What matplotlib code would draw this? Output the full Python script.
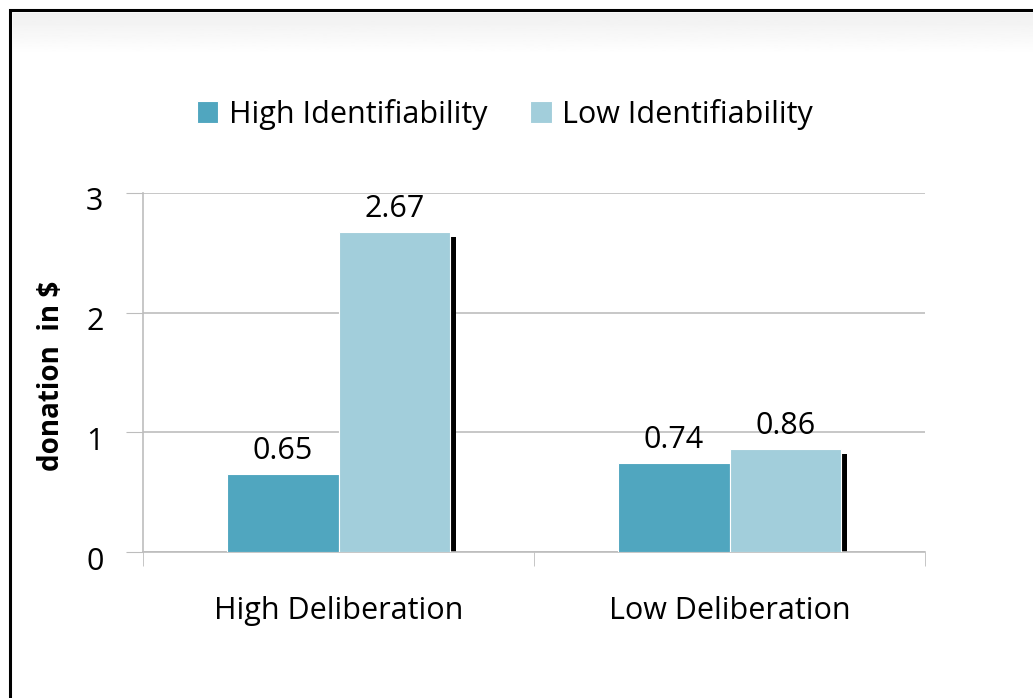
import numpy as np
import matplotlib
matplotlib.use("Agg")
import matplotlib.pyplot as plt
import matplotlib.transforms as mtransforms
from matplotlib.patches import Rectangle

# chart data
categories = ["High Deliberation", "Low Deliberation"]
series_names = ["High Identifiability", "Low Identifiability"]
high_ident = [0.65, 0.74]
low_ident = [2.67, 0.86]
y_ticks = [0, 1, 2, 3]

dark = "#50A6BF"
light = "#A2CEDB"
grid_col = "#BDBDBD"

plt.rcParams['font.family'] = ['Open Sans', 'DejaVu Sans']

fig = plt.figure(figsize=(10.33, 6.98), dpi=100)

# frame around the picture (top and left edges visible)
fig.patches.append(Rectangle((10 / 1033, -0.1), 1.2, 1 - 10 / 698 + 0.1,
                             transform=fig.transFigure, fill=False,
                             edgecolor="black", linewidth=2.2, zorder=5))
# faint grey strip below the top edge
gax = fig.add_axes([13 / 1033, 1 - 55 / 698, 1 - 13 / 1033, 42 / 698])
grad = np.linspace(0.94, 1.0, 40).reshape(-1, 1)
gax.imshow(grad, aspect="auto", cmap="gray", vmin=0, vmax=1, extent=(0, 1, 0, 1))
gax.axis("off")

ax = fig.add_axes([143 / 1033, 1 - 552 / 698, 782 / 1033, 359 / 698])

x = np.arange(len(categories))
w = 0.285
off = 0.1425
fs = 22

b1 = ax.bar(x - off, high_ident, w, color=dark, edgecolor="white",
            linewidth=0.8, label=series_names[0], zorder=3)
b2 = ax.bar(x + off, low_ident, w, color=light, edgecolor="white",
            linewidth=0.8, label=series_names[1], zorder=3)
# thin dark shadow at the right side of the light bars
ax.bar(x + off + w / 2 + 0.0075, np.array(low_ident) - 0.04, 0.015,
       color="black", zorder=2)

for bars, vals in ((b1, high_ident), (b2, low_ident)):
    for r, v in zip(bars, vals):
        ax.annotate(f"{v:.2f}", (r.get_x() + r.get_width() / 2, v),
                    xytext=(0, 6), textcoords="offset points",
                    ha="center", va="bottom", fontsize=fs)

ax.set_xlim(-0.5, 1.5)
ax.set_ylim(0, 3)
ax.set_yticks(y_ticks)
ax.set_yticklabels([str(t) for t in y_ticks], fontsize=fs)
ax.set_xticks(x)
ax.set_xticklabels(categories, fontsize=fs)
ax.tick_params(axis="x", length=0, pad=32)
ax.tick_params(axis="y", length=12, color=grid_col, pad=16.5)

# y tick labels sit a bit below their gridlines
shift = mtransforms.ScaledTranslation(0, -6 / 100, fig.dpi_scale_trans)
for lab in ax.get_yticklabels():
    lab.set_transform(lab.get_transform() + shift)

# category boundary ticks
ax.set_xticks([-0.5, 0.5, 1.5], minor=True)
ax.tick_params(axis="x", which="minor", length=10, color=grid_col)

ax.grid(axis="y", color=grid_col, linewidth=1.2, zorder=0)
ax.set_axisbelow(True)
for s in ("top", "right"):
    ax.spines[s].set_visible(False)
for s in ("left", "bottom"):
    ax.spines[s].set_color(grid_col)
    ax.spines[s].set_linewidth(1.2)

ax.set_ylabel("donation  in $", fontsize=20, fontweight="bold", va="center")
ax.yaxis.set_label_coords(-0.1164, 0.49)

leg = fig.legend(handles=[b1, b2], labels=series_names, loc="center",
                 bbox_to_anchor=(505 / 1033, 1 - 114 / 698), ncol=2,
                 frameon=False, fontsize=fs, handlelength=0.7,
                 handleheight=0.7, handletextpad=0.35, columnspacing=1.4)

fig.savefig("out.png", dpi=100)
